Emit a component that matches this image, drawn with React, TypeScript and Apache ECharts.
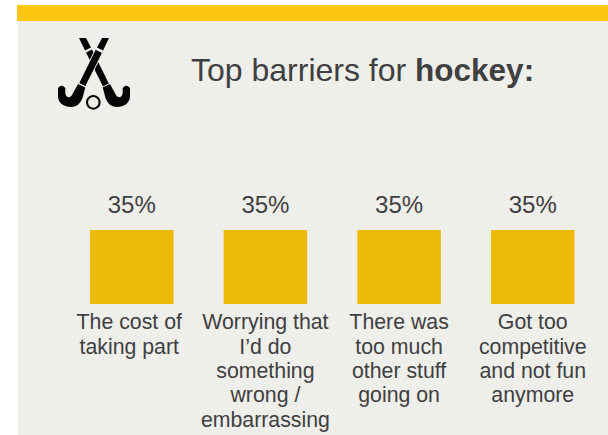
import React, { useEffect, useRef } from "react";
import * as echarts from "echarts";

const categories = [
  "The cost of\ntaking part",
  "Worrying that\nI’d do\nsomething\nwrong /\nembarrassing",
  "There was\ntoo much\nother stuff\ngoing on",
  "Got too\ncompetitive\nand not fun\nanymore",
];
const shares = [35, 35, 35, 35];

const TEXT = "#404040";
const BAR = "#EDBB07";
const PANEL = "#EEEEEB";
const ICON = "#050505";

// Crossed hockey sticks, in page pixels. The rear stick is split at its grip band.
const REAR_STICK =
  "M79 38 L86 38 L91 47.5 L85 50.5 Z " +
  "M86 52.5 L92 49.5 L108.8 83.5 L103 86.5 Z " +
  "M102.7 87.5 L110 84 L116 95 C117.5 98 122 98.5 122.7 93 L122.7 88 Q126.3 83.5 130 88 L130 96 " +
  "C130 103 124 107 117 107 C111 107 107.5 103 105.5 98 Z";
// The front shaft gets an outline in the panel colour where it crosses the rear stick.
const FRONT_SHAFT = "M95.5 49.2 L102.5 52.8 L85.5 86.8 L78.7 83.2 Z";
const FRONT_ENDS =
  "M102 38 L109 38 L103 50.5 L97 47.5 Z " +
  "M85.3 87.5 L78 84 L72 95 C70.5 98 66 98.5 65.3 93 L65.3 88 Q61.7 83.5 58 88 L58 96 " +
  "C58 103 64 107 71 107 C77 107 80.5 103 82.5 98 Z";

echarts.graphic.registerShape("rearStick", echarts.graphic.extendPath(REAR_STICK, {}) as any);
echarts.graphic.registerShape("frontShaft", echarts.graphic.extendPath(FRONT_SHAFT, {}) as any);
echarts.graphic.registerShape("frontEnds", echarts.graphic.extendPath(FRONT_ENDS, {}) as any);

export default function App() {
  const ref = useRef<HTMLDivElement>(null);

  useEffect(() => {
    const chart = echarts.init(ref.current!, null, { renderer: "svg" });
    chart.setOption({
      animation: false,
      backgroundColor: "#FFFFFF",
      title: {
        left: 186,
        top: 49,
        text: "{r|Top barriers for }{b|hockey:}",
        textStyle: {
          fontWeight: "normal",
          rich: {
            r: { fontFamily: "Liberation Sans", fontSize: 32, fontWeight: "normal", color: TEXT },
            b: { fontFamily: "Liberation Sans", fontSize: 31.5, fontWeight: "bold", color: TEXT },
          },
        },
      },
      grid: { left: 64.9, width: 534.7, top: 230, height: 74 },
      xAxis: {
        type: "category",
        // The first label sits slightly left of its bar.
        data: categories.map((value, i) => (i === 0 ? { value, textStyle: { padding: [0, 5, 0, 0] } } : value)),
        axisLine: { show: false },
        axisTick: { show: false },
        axisLabel: {
          interval: 0,
          margin: 6,
          fontFamily: "Liberation Sans",
          fontSize: 21.3,
          lineHeight: 24.4,
          color: TEXT,
        },
      },
      yAxis: { type: "value", min: 0, max: 35, show: false },
      series: [
        {
          type: "bar",
          data: shares,
          barWidth: 83.5,
          itemStyle: { color: BAR },
          label: {
            show: true,
            position: "top",
            distance: 14,
            formatter: "{c}%",
            fontFamily: "Liberation Sans",
            fontSize: 24,
            color: TEXT,
          },
        },
      ],
      graphic: [
        { type: "rect", z: -10, shape: { x: 18, y: 21, width: 590, height: 414 }, style: { fill: PANEL } },
        { type: "rect", z: -9, shape: { x: 17, y: 5, width: 591, height: 16 }, style: { fill: "#FCC711" } },
        { type: "rearStick", x: 0, y: 0, z: 5, style: { fill: ICON } },
        { type: "frontShaft", x: 0, y: 0, z: 6, style: { fill: ICON, stroke: PANEL, lineWidth: 1 } },
        { type: "frontEnds", x: 0, y: 0, z: 6, style: { fill: ICON } },
        { type: "circle", z: 6, shape: { cx: 93.3, cy: 102.3, r: 6.3 }, style: { fill: "none", stroke: ICON, lineWidth: 2 } },
      ],
    });
    return () => chart.dispose();
  }, []);

  return <div ref={ref} style={{ position: "fixed", left: 0, top: 0, width: 608, height: 435 }} />;
}
